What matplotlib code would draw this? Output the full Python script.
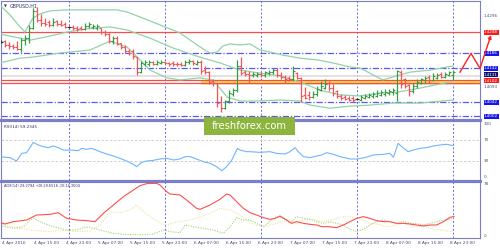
import matplotlib
matplotlib.use("Agg")
import matplotlib.pyplot as plt
import matplotlib.transforms as mtransforms
from matplotlib.lines import Line2D
from matplotlib.patches import Rectangle
import numpy as np

# ---------------- data ----------------
# hourly bars, hour index from 4 Apr 07:00
bar_hour = list(range(-1, 113))
bar_open = [1.4220, 1.4222, 1.4212, 1.4208, 1.4205, 1.4200, 1.4225, 1.4232, 1.4262, 1.4310,
            1.4285, 1.4275, 1.4278, 1.4270, 1.4280, 1.4272, 1.4272, 1.4264, 1.4264, 1.4260,
            1.4260, 1.4258, 1.4268, 1.4264, 1.4262, 1.4262, 1.4250, 1.4244, 1.4222, 1.4232,
            1.4216, 1.4205, 1.4192, 1.4192, 1.4175, 1.4130, 1.4155, 1.4155, 1.4160, 1.4155,
            1.4158, 1.4162, 1.4158, 1.4158, 1.4156, 1.4156, 1.4152, 1.4160, 1.4164, 1.4156,
            1.4162, 1.4136, 1.4130, 1.4105, 1.4098, 1.4042, 1.4025, 1.4045, 1.4068, 1.4078,
            1.4150, 1.4130, 1.4125, 1.4122, 1.4122, 1.4126, 1.4122, 1.4128, 1.4132, 1.4137,
            1.4124, 1.4118, 1.4115, 1.4110, 1.4128, 1.4115, 1.4065, 1.4065, 1.4058, 1.4066,
            1.4078, 1.4085, 1.4100, 1.4085, 1.4075, 1.4062, 1.4058, 1.4055, 1.4055, 1.4052,
            1.4050, 1.4055, 1.4058, 1.4060, 1.4062, 1.4064, 1.4068, 1.4070, 1.4072, 1.4070,
            1.4132, 1.4110, 1.4092, 1.4075, 1.4090, 1.4100, 1.4108, 1.4118, 1.4108, 1.4115,
            1.4125, 1.4118, 1.4124, 1.4122]
bar_close = [1.4220, 1.4212, 1.4208, 1.4205, 1.4200, 1.4225, 1.4232, 1.4262, 1.4310, 1.4285,
             1.4275, 1.4272, 1.4270, 1.4278, 1.4272, 1.4270, 1.4265, 1.4264, 1.4260, 1.4258,
             1.4258, 1.4268, 1.4272, 1.4268, 1.4268, 1.4248, 1.4242, 1.4222, 1.4232, 1.4215,
             1.4205, 1.4192, 1.4188, 1.4178, 1.4130, 1.4158, 1.4162, 1.4160, 1.4156, 1.4160,
             1.4162, 1.4158, 1.4156, 1.4154, 1.4154, 1.4152, 1.4160, 1.4164, 1.4158, 1.4162,
             1.4135, 1.4130, 1.4102, 1.4098, 1.4040, 1.4025, 1.4045, 1.4070, 1.4078, 1.4150,
             1.4128, 1.4125, 1.4122, 1.4126, 1.4126, 1.4122, 1.4130, 1.4132, 1.4137, 1.4122,
             1.4118, 1.4110, 1.4110, 1.4135, 1.4115, 1.4060, 1.4055, 1.4058, 1.4066, 1.4080,
             1.4090, 1.4095, 1.4085, 1.4070, 1.4060, 1.4055, 1.4052, 1.4050, 1.4048, 1.4052,
             1.4058, 1.4062, 1.4064, 1.4066, 1.4070, 1.4072, 1.4074, 1.4076, 1.4078, 1.4135,
             1.4095, 1.4090, 1.4075, 1.4090, 1.4102, 1.4110, 1.4115, 1.4108, 1.4120, 1.4122,
             1.4118, 1.4126, 1.4130, 1.4131]
bar_high = [1.4224, 1.4225, 1.4220, 1.4215, 1.4222, 1.4232, 1.4240, 1.4270, 1.4320, 1.4322,
            1.4302, 1.4290, 1.4284, 1.4290, 1.4284, 1.4284, 1.4278, 1.4268, 1.4270, 1.4266,
            1.4268, 1.4275, 1.4278, 1.4272, 1.4272, 1.4262, 1.4255, 1.4246, 1.4238, 1.4236,
            1.4218, 1.4210, 1.4200, 1.4200, 1.4175, 1.4165, 1.4166, 1.4166, 1.4164, 1.4166,
            1.4168, 1.4165, 1.4162, 1.4163, 1.4160, 1.4160, 1.4168, 1.4170, 1.4168, 1.4168,
            1.4166, 1.4150, 1.4135, 1.4112, 1.4100, 1.4060, 1.4050, 1.4078, 1.4085, 1.4167,
            1.4175, 1.4137, 1.4135, 1.4130, 1.4130, 1.4130, 1.4135, 1.4138, 1.4142, 1.4142,
            1.4130, 1.4123, 1.4120, 1.4150, 1.4130, 1.4118, 1.4088, 1.4075, 1.4075, 1.4090,
            1.4105, 1.4110, 1.4105, 1.4095, 1.4078, 1.4068, 1.4064, 1.4062, 1.4060, 1.4056,
            1.4064, 1.4068, 1.4070, 1.4072, 1.4078, 1.4078, 1.4080, 1.4082, 1.4085, 1.4137,
            1.4137, 1.4115, 1.4095, 1.4098, 1.4112, 1.4115, 1.4120, 1.4122, 1.4128, 1.4128,
            1.4130, 1.4132, 1.4135, 1.4137]
bar_low = [1.4216, 1.4205, 1.4200, 1.4198, 1.4195, 1.4190, 1.4212, 1.4218, 1.4258, 1.4278,
           1.4266, 1.4266, 1.4263, 1.4268, 1.4268, 1.4266, 1.4260, 1.4260, 1.4256, 1.4252,
           1.4255, 1.4255, 1.4260, 1.4258, 1.4255, 1.4242, 1.4238, 1.4218, 1.4215, 1.4210,
           1.4198, 1.4186, 1.4180, 1.4170, 1.4123, 1.4128, 1.4148, 1.4150, 1.4152, 1.4152,
           1.4154, 1.4152, 1.4150, 1.4150, 1.4150, 1.4148, 1.4150, 1.4155, 1.4152, 1.4152,
           1.4125, 1.4126, 1.4095, 1.4090, 1.4028, 1.4013, 1.4022, 1.4040, 1.4062, 1.4074,
           1.4122, 1.4120, 1.4098, 1.4118, 1.4116, 1.4118, 1.4118, 1.4122, 1.4126, 1.4118,
           1.4112, 1.4100, 1.4105, 1.4105, 1.4110, 1.4042, 1.4052, 1.4050, 1.4055, 1.4060,
           1.4075, 1.4080, 1.4075, 1.4062, 1.4055, 1.4049, 1.4049, 1.4046, 1.4043, 1.4048,
           1.4046, 1.4052, 1.4054, 1.4055, 1.4058, 1.4060, 1.4062, 1.4064, 1.4065, 1.4045,
           1.4085, 1.4085, 1.4062, 1.4070, 1.4085, 1.4095, 1.4100, 1.4100, 1.4105, 1.4110,
           1.4115, 1.4115, 1.4120, 1.4108]

# Bollinger bands (read at sample hours)
bb_up_h = [-1.25, 1.25, 3.75, 5, 6, 7, 8.75, 11.25, 15.5, 23.75, 28, 30.5, 33.75, 38.75, 43.75,
           48.75, 51.25, 53, 54.5, 56.25, 58.75, 61.25, 63.75, 66.25, 69.5, 73.75, 78, 82,
           86.25, 88.75, 92, 94.5, 97, 101.25, 106.25, 112]
bb_up = [1.4328, 1.4299, 1.4264, 1.4249, 1.4270, 1.4290, 1.4302, 1.4311, 1.4314, 1.4314, 1.4314,
         1.4308, 1.4293, 1.4270, 1.4246, 1.4205, 1.4187, 1.4190, 1.4208, 1.4214, 1.4211, 1.4214,
         1.4196, 1.4190, 1.4181, 1.4172, 1.4167, 1.4158, 1.4146, 1.4143, 1.4123, 1.4108, 1.4117,
         1.4131, 1.4137, 1.4149]
bb_mid_h = [-1.25, 2.5, 6.25, 11.25, 15.5, 20.5, 26.25, 30.5, 36.25, 42, 48.75, 53.75, 58.75,
            63.75, 68.75, 73.75, 78.75, 83.75, 88.75, 94.5, 98, 103.75, 112]
bb_mid = [1.4243, 1.4234, 1.4225, 1.4237, 1.4249, 1.4258, 1.4264, 1.4255, 1.4231, 1.4202, 1.4175,
          1.4158, 1.4137, 1.4128, 1.4120, 1.4102, 1.4078, 1.4064, 1.4061, 1.4070, 1.4072, 1.4084,
          1.4104]
bb_low_h = [-1.25, 3.75, 6.75, 13.75, 21.25, 26.25, 30.5, 33.75, 36.25, 40.5, 43.75, 48.75, 52,
            55.5, 58.75, 62.5, 68.75, 73.75, 76.25, 81.25, 86.25, 91.25, 97, 103.75, 112]
bb_low = [1.4158, 1.4172, 1.4175, 1.4187, 1.4196, 1.4222, 1.4205, 1.4167, 1.4137, 1.4114, 1.4108,
          1.4114, 1.4108, 1.4058, 1.4046, 1.4046, 1.4049, 1.4046, 1.4034, 1.4025, 1.4031, 1.4034,
          1.4040, 1.4040, 1.4049]

# horizontal levels
level_red = 1.4248
levels_blue = [1.4186, 1.4142, 1.4042, 1.4002]
zone_top, zone_bottom = 1.4108, 1.4100
bid_price = 1.4131
forecast_h = [113.75, 116.5, 118.75, 121.5]
forecast_p = [1.4131, 1.4186, 1.4142, 1.4240]

# RSI(14)
rsi_h = [-1.25, 1.25, 2.9, 4.2, 5.4, 7.1, 8.3, 9.6, 10.8, 12.1, 13.3, 14.6, 16.25, 18.3, 19.2,
         20.4, 21.7, 23.75, 25.4, 27.1, 28.75, 30.4, 32.1, 32.9, 34.2, 35.4, 37.1, 38.75, 40.4,
         42.1, 43.75, 45, 46.25, 47.9, 49.6, 51.25, 52.9, 54.2, 55.4, 56.7, 58.1, 58.75, 60.4,
         61.25, 63.75, 66.25, 67.9, 70, 71.25, 72.5, 73.3, 74.6, 76.25, 77.9, 79.2, 80.4, 82.1,
         83.75, 86.25, 87.9, 90, 92.1, 94.6, 96.25, 97.1, 98.3, 99.2, 100.8, 102.1, 103.75,
         105.4, 107.1, 108.75, 110.4, 112]
rsi = [38.3, 36.5, 30.2, 44.6, 45.9, 65.4, 60.4, 57.2, 55.4, 58.5, 55.4, 50.9, 50.9, 49.7, 54.1,
       52.2, 54.1, 47.8, 43.4, 39.6, 35.2, 30.2, 23.9, 19.5, 27.7, 30.2, 31.4, 34.0, 35.2, 32.1,
       34.0, 38.4, 38.4, 34.0, 28.9, 25.8, 19.5, 11.9, 19.5, 32.0, 54.0, 50.9, 47.8, 47.8, 46.5,
       47.8, 44.6, 43.4, 47.8, 55.4, 47.8, 38.4, 36.5, 39.6, 41.5, 45.9, 42.8, 38.4, 34.0, 34.0,
       36.5, 41.5, 42.8, 44.6, 37.2, 63.5, 57.2, 47.8, 50.9, 54.1, 55.4, 58.5, 60.4, 61.7, 59.2]

# ADX(14)
adx_h = [-1.25, 0, 2.1, 5.4, 7.9, 11.25, 13.3, 15.4, 17.9, 20.4, 22.5, 24.6, 27.1, 29.6, 32.1,
         33.75, 35.4, 37.9, 38.75, 40.4, 41.25, 43.75, 45.4, 47.9, 48.75, 51.25, 53.75, 55.4,
         56.25, 57.9, 59.6, 61.25, 62.9, 64.6, 66.25, 67.5, 68.75, 70.4, 71.7, 72.9, 74.6, 76.25,
         77.9, 79.2, 80.8, 82.9, 84.6, 86.25, 87.9, 89.6, 91.25, 92.9, 94.6, 96.25, 97.9, 99.6,
         101.25, 102.9, 104.6, 106.25, 107.9, 109.6, 111.25, 112.25]
adx = [20.5, 18, 21.5, 24, 31.5, 32.5, 35, 26.5, 24, 23, 21.5, 34, 46.5, 59, 69, 75.5, 78.5, 79,
       76.5, 66.5, 63, 61.5, 54, 41.5, 40, 46.5, 55, 63, 61.5, 51.5, 41.5, 35, 31.5, 27.5, 25,
       26.5, 30, 24, 19, 21.5, 19, 17.5, 16.5, 14, 14, 12.5, 16.5, 21.5, 26.5, 29, 26.5, 23,
       21.5, 21.5, 19, 19, 18, 16.5, 15, 16.5, 16.5, 21.5, 28, 29.3]
pdi_h = [-1.25, 2.1, 4.6, 6.25, 7.1, 9.6, 12.1, 15.4, 17.9, 20, 21.25, 23.75, 27.1, 29.6, 32.1,
         34.6, 37.1, 39.6, 41.25, 43.75, 45, 47.1, 49.6, 52.1, 54.6, 56.25, 57.9, 59.6, 61.25,
         62.9, 64.6, 66.25, 67.9, 69.6, 71.25, 72.9, 74.6, 76.25, 77.9, 79.6, 81.25, 82.9, 84.6,
         86.25, 87.9, 89.6, 91.25, 92.9, 94.6, 96.25, 97.9, 99.6, 101.25, 102.9, 104.6, 106.25,
         107.9, 109.6, 111.25, 112.25]
pdi = [15.5, 11.5, 14, 24, 26.5, 19, 14, 9, 9, 13, 13, 9, 4, 2.5, 2, 2, 3, 9, 6.5, 5, 16.5, 14,
       11.5, 9, 4, 14, 27.5, 24, 24, 19, 14, 21.5, 29, 26.5, 19, 29, 26.5, 25, 21.5, 19, 21.5, 19,
       16.5, 10, 6.5, 10, 16.5, 21.5, 24, 21.5, 19, 21.5, 19, 18.5, 16.5, 19, 21.5, 24, 25, 27.5]
mdi_h = [-1.25, 1.25, 3.75, 6.25, 8.75, 11.25, 13.75, 16.25, 18.75, 21.25, 23.75, 26.25, 28.75,
         31.25, 32.9, 34.2, 36.25, 38.75, 40.4, 42.1, 43.75, 46.25, 48.75, 51.25, 53.75, 56.25,
         58.75, 61.25, 62.9, 64.6, 66.25, 67.9, 69.6, 71.25, 72.9, 74.6, 76.25, 77.9, 79.6,
         81.25, 82.9, 84.6, 86.25, 87.9, 89.6, 91.25, 92.9, 94.6, 96.25, 97.9, 99.6, 101.25,
         102.9, 104.6, 106.25, 107.9, 109.6, 111.25, 112.25]
mdi = [19, 14, 11.5, 9, 7.5, 6.5, 9, 7.5, 6.5, 7.5, 16.5, 36.5, 35, 39, 46.5, 39, 29, 20, 16.5,
       20, 21.5, 24, 29, 34, 41.5, 39, 31.5, 21, 16.5, 13, 16.5, 19, 21.5, 24, 19, 24, 25, 24,
       21.5, 24, 26.5, 29, 29, 26.5, 24, 19, 18, 15, 14, 16.5, 19, 16.5, 14, 15, 11.5, 10, 9,
       6.5, 9]

tick_hours = [0, 8, 16, 24, 32, 40, 48, 56, 64, 72, 80, 88, 96, 104, 112]
tick_labels = ["4 Apr 2016", "4 Apr 15:00", "4 Apr 23:00", "5 Apr 07:00", "5 Apr 15:00",
               "5 Apr 23:00", "6 Apr 07:00", "6 Apr 15:00", "6 Apr 23:00", "7 Apr 07:00",
               "7 Apr 15:00", "7 Apr 23:00", "8 Apr 07:00", "8 Apr 15:00", "8 Apr 23:00"]
grid_hours = [16, 40, 64, 88, 112]

# ---------------- figure ----------------
W, H = 500, 250
fig = plt.figure(figsize=(5, 2.5), dpi=100)
fig.patch.set_facecolor("white")

def fx(px):
    return px / W

def fy(py):
    return 1 - py / H

frame_col = "#7b7fc8"
lbl_col = "#4a4a78"

def make_ax(top, bottom):
    ax = fig.add_axes([fx(1), fy(bottom), fx(480) - fx(1), fy(top) - fy(bottom)])
    ax.set_xlim(-1, 118.75)
    for s in ax.spines.values():
        s.set_color(frame_col)
        s.set_linewidth(0.8)
    ax.set_xticks([])
    ax.set_yticks([])
    ax.set_facecolor("white")
    for g in grid_hours:
        ax.axvline(g, color="#6a6ad0", lw=0.7, ls=(0, (2, 2)), zorder=1)
    return ax

ax = make_ax(1, 119)
ax_rsi = make_ax(121, 180)
ax_adx = make_ax(182, 238)

ax.set_ylim(1.39932, 1.43401)
ax_rsi.set_ylim(-5.66, 105.66)
ax_adx.set_ylim(-3, 81)

# separators
for py in (120, 181):
    fig.add_artist(Line2D([fx(1), fx(480)], [fy(py), fy(py)], color=frame_col, lw=2.2))

# --- main panel ---
ax.axhline(level_red, color="#ff4a4a", lw=0.9, zorder=2)
for lv in levels_blue:
    ax.axhline(lv, color="#5a5af2", lw=0.9, ls=(0, (5, 1.5, 1, 1.5)), zorder=2)
ax.axhline(1.4120, color="#dcdcdc", lw=1.2, zorder=1)
ax.fill_between([49, 118.75], zone_bottom - 0.0007, zone_bottom - 0.0002, color="#cfcfcf",
                alpha=0.6, lw=0, zorder=1)
ax.fill_between([49, 118.75], zone_bottom, zone_top, color="#f5e642", lw=0, zorder=2)
ax.axhline(zone_top, color="#ff4a4a", lw=0.9, zorder=3)
ax.axhline(zone_bottom, color="#ff4a4a", lw=0.9, zorder=3)

bb_col = "#92d3a8"
ax.plot(bb_up_h, bb_up, color=bb_col, lw=0.9, zorder=3)
ax.plot(bb_mid_h, bb_mid, color=bb_col, lw=0.9, zorder=3)
ax.plot(bb_low_h, bb_low, color=bb_col, lw=0.9, zorder=3)

cols = []
for o, c in zip(bar_open, bar_close):
    if c > o:
        cols.append("#3a9a45")
    elif c < o:
        cols.append("#f25555")
    else:
        cols.append("#303030")
hrs = np.array(bar_hour, dtype=float)
ax.vlines(hrs, bar_low, bar_high, colors=cols, lw=0.9, zorder=4)
ax.hlines(bar_open, hrs - 0.4, hrs, colors=cols, lw=0.8, zorder=4)
ax.hlines(bar_close, hrs, hrs + 0.4, colors=cols, lw=0.8, zorder=4)

# forecast zigzag arrow
ax.plot(forecast_h[:-1], forecast_p[:-1], color="#ff2020", lw=1.0, clip_on=False, zorder=6)
ax.annotate("", xy=(forecast_h[-1], forecast_p[-1]), xytext=(forecast_h[-2], forecast_p[-2]),
            arrowprops=dict(arrowstyle="-|>", color="#ff2020", lw=1.0, mutation_scale=5,
                            shrinkA=0, shrinkB=0), annotation_clip=False, zorder=6)

ax.text(0.006, 0.955, "\u25bc", transform=ax.transAxes, fontsize=2.6, color="#303060",
        va="center", ha="left")
ax.text(0.019, 0.955, "GBPUSD,H1", transform=ax.transAxes, fontsize=3.4, color="#303060",
        va="center", ha="left")

# right-side price labels
trans_main = mtransforms.blended_transform_factory(fig.transFigure, ax.transData)

def plabel(price, fc, tc="white", dy=0.0, z=5):
    kw = dict(transform=trans_main, fontsize=3.0, color=tc, va="center", ha="left",
              clip_on=False, zorder=z)
    if fc is not None:
        kw["bbox"] = dict(boxstyle="square,pad=0.12", fc=fc, ec="none")
    ax.text(fx(484), price + dy, f"{price:.4f}", **kw)

plabel(1.4296, None, tc=lbl_col)
plabel(1.4093, None, tc=lbl_col, dy=-0.00045, z=4)
plabel(level_red, "#ff1a1a")
for lv in levels_blue:
    plabel(lv, "#1515f0")
plabel(bid_price, "#10106a", dy=-0.0007)
plabel(1.4102, "#ff1a1a", dy=0.0004)

# --- RSI ---
ax_rsi.axhline(70, color="#c8c8c8", lw=0.6, ls=(0, (3, 2)))
ax_rsi.axhline(30, color="#c8c8c8", lw=0.6, ls=(0, (3, 2)))
ax_rsi.plot(rsi_h, rsi, color="#6fb5ff", lw=0.8, zorder=3)
ax_rsi.text(0.006, 0.9, "RSI(14) 59.2345", transform=ax_rsi.transAxes, fontsize=3.0,
            color="#303060", va="center", ha="left")
trans_rsi = mtransforms.blended_transform_factory(fig.transFigure, ax_rsi.transData)
for v in (100, 70, 30, 0):
    ax_rsi.text(fx(484), v, str(v), transform=trans_rsi, fontsize=3.0, color=lbl_col,
                va="center", ha="left", clip_on=False)

# --- ADX ---
ax_adx.plot(mdi_h, mdi, color="#ece2a0", lw=0.8, ls=(0, (1, 1.2)), zorder=2)
ax_adx.plot(pdi_h, pdi, color="#a8d070", lw=0.8, ls=(0, (1, 1.2)), zorder=2)
ax_adx.plot(adx_h, adx, color="#ff4e4e", lw=0.8, zorder=3)
ax_adx.text(0.006, 0.93, "ADX(14) 29.2794 +DI:29.6516 -DI:14.3504", transform=ax_adx.transAxes,
            fontsize=2.5, color="#303060", va="center", ha="left")
trans_adx = mtransforms.blended_transform_factory(fig.transFigure, ax_adx.transData)
for v in (78, 0):
    ax_adx.text(fx(484), v, str(v), transform=trans_adx, fontsize=3.0, color=lbl_col,
                va="center", ha="left", clip_on=False)

trans_x = mtransforms.blended_transform_factory(ax_adx.transData, fig.transFigure)
for th, tl in zip(tick_hours, tick_labels):
    ax_adx.text(th - 0.85, fy(243), tl, transform=trans_x, fontsize=3.1, color=lbl_col,
                va="center", ha="left", clip_on=False)

# watermark
fig.add_artist(Rectangle((fx(204), fy(135)), fx(295) - fx(204), fy(117) - fy(135),
                         transform=fig.transFigure, fc="#8db43c", ec="none", zorder=10))
fig.text(fx(249.5), fy(126), "freshforex.com", fontsize=7.2, color="white", ha="center",
         va="center", zorder=11)

fig.savefig("out.png", dpi=100)
